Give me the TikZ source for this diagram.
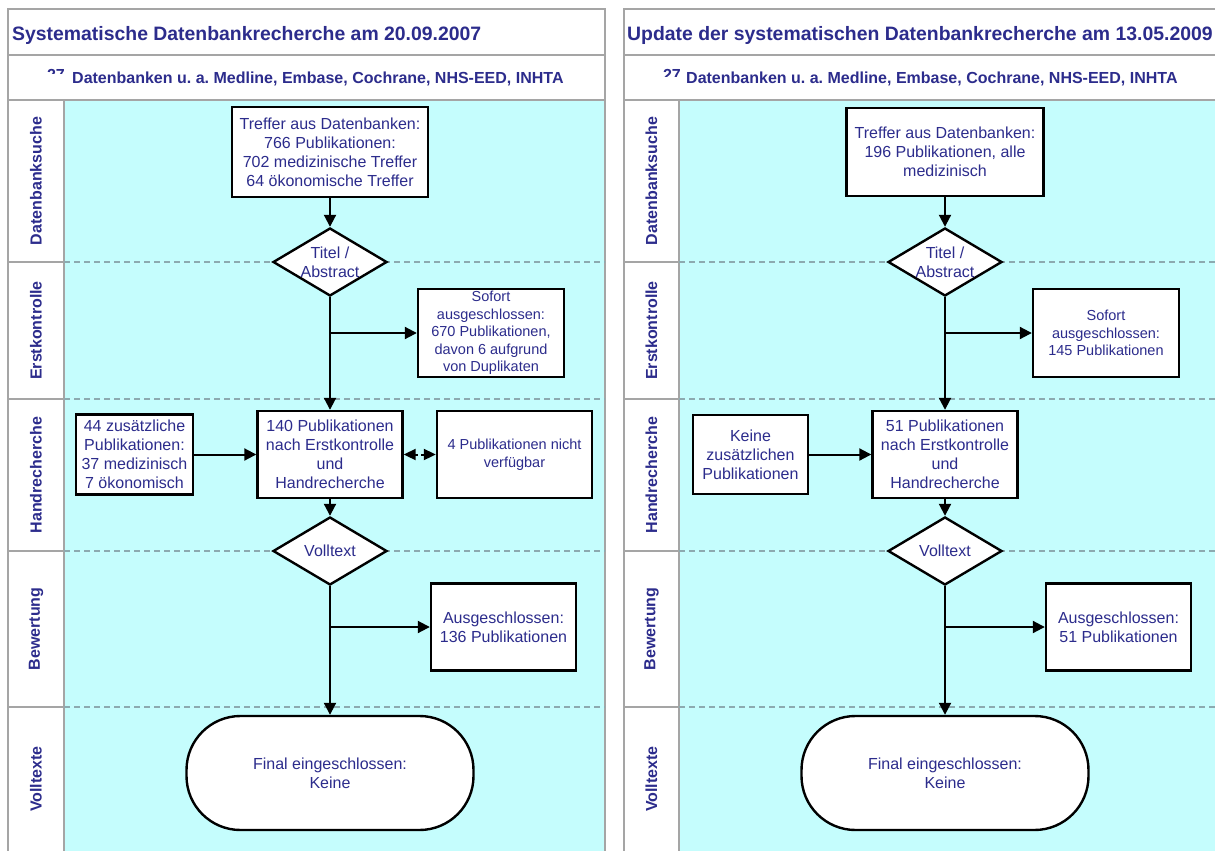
\documentclass[tikz,border=0pt]{standalone}
\usepackage{fontspec}
\setmainfont{Liberation Sans}
\usetikzlibrary{arrows.meta,shapes.geometric}
\frenchspacing
\definecolor{navy}{RGB}{44,44,140}
\definecolor{lanecyan}{RGB}{197,253,253}
\definecolor{bordergrey}{RGB}{165,165,165}
\definecolor{dashgrey}{RGB}{140,170,176}
\tikzset{
 box/.style={draw=black, line width=2.4pt, fill=white, text=navy, align=center, inner sep=0pt, font=\fontsize{16}{19}\selectfont},
 smallbox/.style={box, font=\fontsize{14.5}{17.5}\selectfont},
 dia/.style={draw=black, line width=2.4pt, fill=white, shape=diamond, inner sep=0pt, minimum width=114pt, minimum height=68pt},
 diatext/.style={text=navy, align=center, inner sep=0pt, font=\fontsize{16}{19}\selectfont},
 term/.style={box, rounded corners=54pt, minimum width=287pt, minimum height=114pt},
 arr/.style={draw=black, line width=2pt, -{Triangle[length=12pt,width=12pt]}},
 dblarr/.style={draw=black, line width=2pt, dash pattern=on 3pt off 3pt, {Triangle[length=12pt,width=11pt]}-{Triangle[length=12pt,width=11pt]}},
 frame/.style={draw=bordergrey, line width=1.2pt},
 lanesep/.style={draw=dashgrey, line width=1.2pt, dash pattern=on 6pt off 4pt},
 lanelabel/.style={rotate=90, text=navy, inner sep=0pt, font=\bfseries\fontsize{16}{19}\selectfont},
 titletext/.style={anchor=base west, text=navy, inner sep=0pt, font=\bfseries\fontsize{19.4}{23}\selectfont},
 subtext/.style={anchor=base west, text=navy, inner sep=0pt, font=\bfseries\fontsize{16}{19}\selectfont},
}
\begin{document}
\begin{tikzpicture}[x=1pt,y=-1pt]
\useasboundingbox (0,0) rectangle (1215,851);
\fill[white] (0,0) rectangle (1215,851);
\clip (0,0) rectangle (1215,851);

% ---------- left panel frame ----------
\fill[lanecyan] (64,100) rectangle (605,870);
\draw[frame] (8,870) -- (8,9) -- (605,9) -- (605,870);
\draw[frame] (8,55) -- (605,55);
\draw[frame] (8,100) -- (605,100);
\draw[frame] (64,100) -- (64,870);
\foreach \y in {262,399,551,707} {
  \draw[frame] (8,\y) -- (64,\y);
  \draw[lanesep] (64,\y) -- (605,\y);
}
% ---------- right panel frame ----------
\fill[lanecyan] (679,100) rectangle (1225,870);
\draw[frame] (624,870) -- (624,9) -- (1225,9);
\draw[frame] (624,55) -- (1225,55);
\draw[frame] (624,100) -- (1225,100);
\draw[frame] (679,100) -- (679,870);
\foreach \y in {262,399,551,707} {
  \draw[frame] (624,\y) -- (679,\y);
  \draw[lanesep] (679,\y) -- (1225,\y);
}

% ---------- titles ----------
\node[titletext] (title1) at (12,41) {Systematische Datenbankrecherche am 20.09.2007};
\node[titletext] (title2) at (627,41) {Update der systematischen Datenbankrecherche am 13.05.2009};
\node[subtext] (sub1) at (72,84) {Datenbanken u. a. Medline, Embase, Cochrane, NHS-EED, INHTA};
\node[subtext] (sub2) at (686,84) {Datenbanken u. a. Medline, Embase, Cochrane, NHS-EED, INHTA};
\begin{scope}
  \clip (30,60) rectangle (70,73.5);
  \node[subtext, anchor=base east] (num1) at (65,80.5) {27};
\end{scope}
\begin{scope}
  \clip (645,60) rectangle (684,76);
  \node[subtext, anchor=base east] (num2) at (681,80.5) {27};
\end{scope}

% ---------- lane labels ----------
\node[lanelabel] (la1) at (36,181) {Datenbanksuche};
\node[lanelabel] (la2) at (36,330.5) {Erstkontrolle};
\node[lanelabel] (la3) at (36,475) {Handrecherche};
\node[lanelabel] (la4) at (36,629) {Bewertung};
\node[lanelabel] (la5) at (36,779) {Volltexte};
\node[lanelabel] (lb1) at (651.5,181) {Datenbanksuche};
\node[lanelabel] (lb2) at (651.5,330.5) {Erstkontrolle};
\node[lanelabel] (lb3) at (651.5,475) {Handrecherche};
\node[lanelabel] (lb4) at (651.5,629) {Bewertung};
\node[lanelabel] (lb5) at (651.5,779) {Volltexte};

% ---------- left flow ----------
\node[box, minimum width=196pt, minimum height=90pt] (t1) at (330,152)
  {Treffer aus Datenbanken:\\766 Publikationen:\\702 medizinische Treffer\\64 ökonomische Treffer};
\node[dia, label={[diatext]center:{Titel /\\Abstract}}] (d1) at (330,262) {};
\node[smallbox, minimum width=146pt, minimum height=88pt] (s1) at (491,333)
  {Sofort\\ausgeschlossen:\\670 Publikationen,\\davon 6 aufgrund\\von Duplikaten};
\node[box, minimum width=145pt, minimum height=87pt] (p1) at (330,454.5)
  {140 Publikationen\\nach Erstkontrolle\\und\\Handrecherche};
\node[box, minimum width=117pt, minimum height=80pt] (a1) at (134.5,454.5)
  {44 zusätzliche\\Publikationen:\\37 medizinisch\\7 ökonomisch};
\node[smallbox, minimum width=155pt, minimum height=87pt] (n1) at (514.5,454.5)
  {4 Publikationen nicht\\verfügbar};
\node[dia, label={[diatext]center:{Volltext}}] (v1) at (330,551) {};
\node[box, minimum width=145pt, minimum height=87pt] (x1) at (503.5,627)
  {Ausgeschlossen:\\136 Publikationen};
\node[term] (f1) at (330,773) {Final eingeschlossen:\\Keine};

\draw[arr] (t1.south) -- (d1.north);
\draw[arr] (d1.south) -- (p1.north);
\coordinate (b1) at (d1.south |- s1.west);
\draw[arr] (b1) -- (s1.west);
\draw[arr] (a1.east) -- (p1.west);
\draw[dblarr] (p1.east) -- (n1.west);
\draw[arr] (p1.south) -- (v1.north);
\draw[arr] (v1.south) -- (f1.north);
\coordinate (b2) at (v1.south |- x1.west);
\draw[arr] (b2) -- (x1.west);

% ---------- right flow ----------
\node[box, minimum width=197pt, minimum height=88pt] (t2) at (945,152)
  {Treffer aus Datenbanken:\\196 Publikationen, alle\\medizinisch};
\node[dia, label={[diatext]center:{Titel /\\Abstract}}] (d2) at (945,262) {};
\node[smallbox, minimum width=146pt, minimum height=88pt] (s2) at (1106,333)
  {Sofort\\ausgeschlossen:\\145 Publikationen};
\node[box, minimum width=145pt, minimum height=87pt] (p2) at (945,454.5)
  {51 Publikationen\\nach Erstkontrolle\\und\\Handrecherche};
\node[box, minimum width=115pt, minimum height=79pt] (a2) at (750.5,454.5)
  {Keine\\zusätzlichen\\Publikationen};
\node[dia, label={[diatext]center:{Volltext}}] (v2) at (945,551) {};
\node[box, minimum width=145pt, minimum height=87pt] (x2) at (1118.5,627)
  {Ausgeschlossen:\\51 Publikationen};
\node[term] (f2) at (945,773) {Final eingeschlossen:\\Keine};

\draw[arr] (t2.south) -- (d2.north);
\draw[arr] (d2.south) -- (p2.north);
\coordinate (b3) at (d2.south |- s2.west);
\draw[arr] (b3) -- (s2.west);
\draw[arr] (a2.east) -- (p2.west);
\draw[arr] (p2.south) -- (v2.north);
\draw[arr] (v2.south) -- (f2.north);
\coordinate (b4) at (v2.south |- x2.west);
\draw[arr] (b4) -- (x2.west);
\end{tikzpicture}
\end{document}
